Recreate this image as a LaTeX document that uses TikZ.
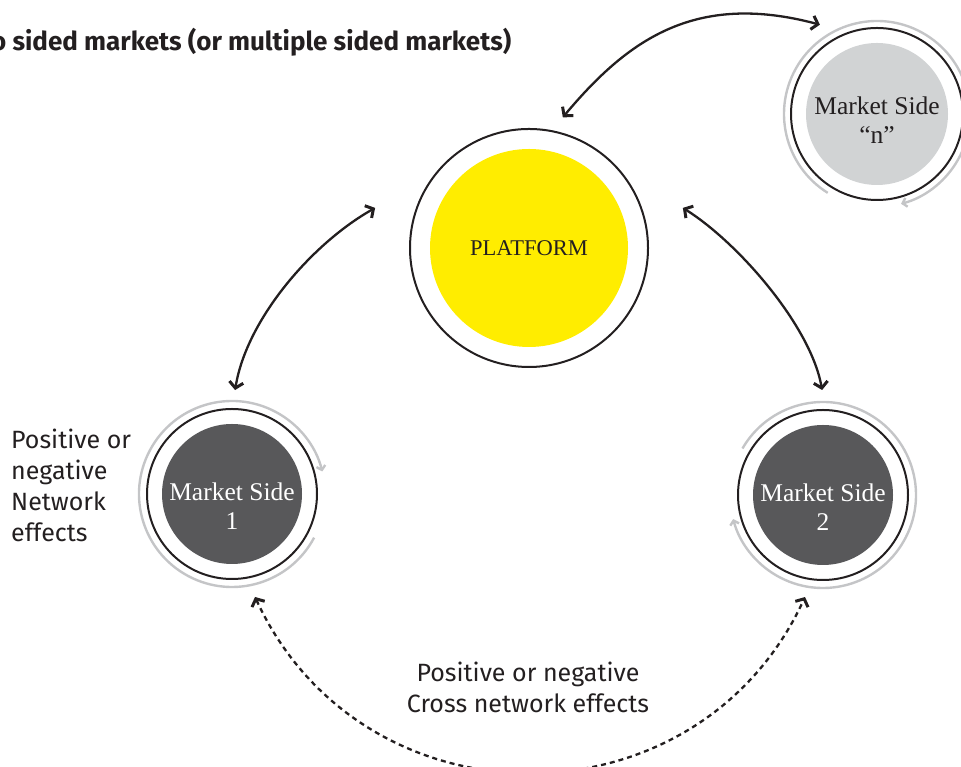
\documentclass[tikz,border=0pt]{standalone}
\usepackage{fontspec}
\setmainfont{Liberation Serif}
\newfontfamily\labelfont{Fira Sans}
\usetikzlibrary{arrows.meta}
\definecolor{platyellow}{HTML}{FFED00}
\definecolor{sidedark}{HTML}{58585A}
\definecolor{sidelight}{HTML}{D1D3D4}
\definecolor{arcgray}{HTML}{C4C5C7}
\definecolor{ink}{HTML}{231F20}
\begin{document}
\begin{tikzpicture}[x=1pt,y=1pt,
  ring/.style={circle, draw=ink, line width=2pt, inner sep=0pt, minimum size=#1},
  sidetext/.style={align=center, font=\fontsize{25.5}{29}\selectfont, inner sep=0pt},
  labeltext/.style={font=\labelfont\fontsize{25}{31}\selectfont, text=ink, inner sep=0pt},
  titletext/.style={font=\labelfont\bfseries\fontsize{26}{30}\selectfont, text=ink, inner sep=0pt},
  loop/.style={draw=arcgray, line width=2.4pt, -{Straight Barb[length=4pt,width=9pt]}},
  twoway/.style={draw=ink, line width=2.3pt, {Straight Barb[length=6pt,width=14pt,line width=3pt]}-{Straight Barb[length=6pt,width=14pt,line width=3pt]}},
  crossway/.style={twoway, dash pattern=on 5pt off 4pt}
]
\clip (0,0) rectangle (961,767);

% platform
\node[ring=238pt, path picture={\fill[platyellow] (path picture bounding box.center) circle[radius=99pt];},
      font=\fontsize{22.5}{26}\selectfont, text=ink] (plat) at (529,519) {PLATFORM};

% market sides
\node[ring=170pt, path picture={\fill[sidedark] (path picture bounding box.center) circle[radius=70pt];}] (ms1) at (232,273) {};
\node[ring=170pt, path picture={\fill[sidedark] (path picture bounding box.center) circle[radius=70pt];}] (ms2) at (823,272) {};
\node[ring=172pt, path picture={\fill[sidelight] (path picture bounding box.center) circle[radius=71pt];}] (msn) at (877,653) {};

\node[sidetext, text=white] (ms1label) at ([yshift=-12pt]ms1.center) {Market Side\\1};
\node[sidetext, text=white] (ms2label) at ([yshift=-12pt]ms2.center) {Market Side\\2};
\node[sidetext, text=ink] (msnlabel) at ([yshift=-6pt]msn.center) {Market Side\\“n”};

% self network-effect loops
\draw[loop] ([shift={(-28:93)}]ms1.center) arc[start angle=-28, end angle=-346, radius=93];
\draw[loop] ([shift={(150:93)}]ms2.center) arc[start angle=150, end angle=-165, radius=93];
\draw[loop] ([shift={(238:93)}]msn.center) arc[start angle=238, end angle=-75, radius=93];

% platform connectors
\draw[twoway] ([shift={(165.4:159)}]plat.center) .. controls +(209.4:72) and +(80.8:72) .. ([shift={(88.3:104)}]ms1.center);
\draw[twoway] ([shift={(14.6:159)}]plat.center) .. controls +(-32:65) and +(100:65) .. ([shift={(90.5:105)}]ms2.center);
\draw[twoway] ([shift={(75.5:135)}]plat.center) .. controls +(50:100) and +(165:130) .. ([shift={(122.6:106)}]msn.center);

% cross network effects
\draw[crossway] ([shift={(-77.4:105.5)}]ms1.center) .. controls +(108,-234) and +(-108,-234) .. ([shift={(-100:103.6)}]ms2.center);

% labels
\node[labeltext, anchor=west, align=left] (selflabel) at (11,282) {Positive or\\negative\\Network\\effects};
\node[labeltext, align=center] (crosslabel) at (528,80) {Positive or negative\\Cross network effects};
\node[titletext, anchor=west] (title) at (-9,725) {o sided markets (or multiple sided markets)};
\end{tikzpicture}
\end{document}
